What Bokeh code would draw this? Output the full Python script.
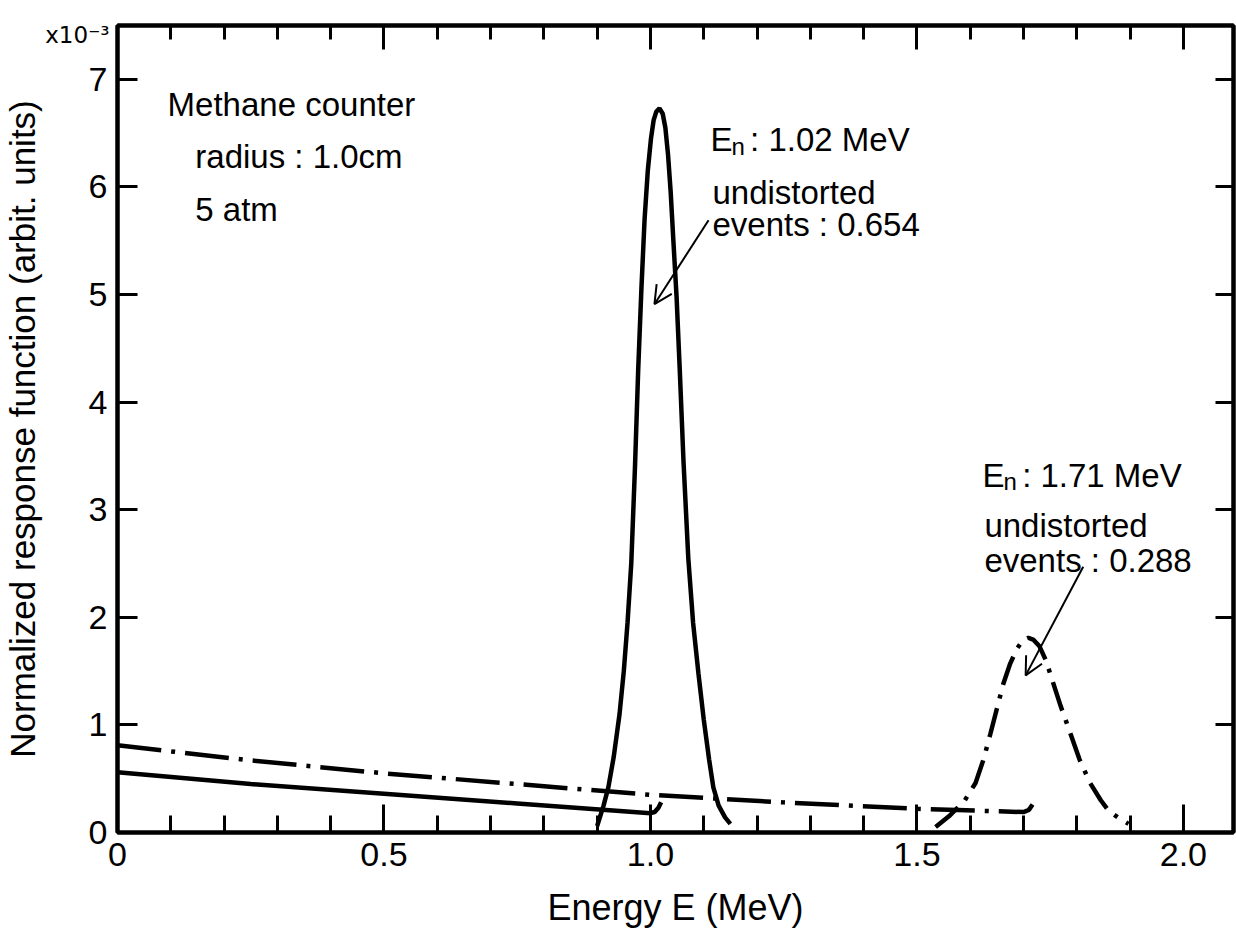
import math
from bokeh.plotting import figure
from bokeh.models import (Range1d, LinearAxis, FixedTicker, CustomJSTickFormatter,
                          Label, Arrow, OpenHead)
from bokeh.embed import file_html
from bokeh.resources import INLINE

# ---------------- data ----------------
# solid curve: En = 1.02 MeV
solid_base_x = [0.0, 0.25, 0.5, 0.75, 1.0, 1.008, 1.015, 1.02]
solid_base_y = [0.56, 0.45, 0.36, 0.27, 0.18, 0.19, 0.23, 0.28]
peak1_x = [0.900, 0.912, 0.921, 0.931, 0.942, 0.950, 0.957, 0.964, 0.971, 0.977,
           0.983, 0.989, 0.995, 1.001, 1.006, 1.011, 1.017, 1.023, 1.028, 1.033,
           1.038, 1.043, 1.049, 1.055, 1.062, 1.071, 1.080, 1.090, 1.100, 1.110,
           1.118, 1.128, 1.140, 1.150]
peak1_y = [0.06, 0.25, 0.42, 0.70, 1.10, 1.50, 1.95, 2.50, 3.40, 4.30,
           5.05, 5.70, 6.15, 6.45, 6.62, 6.70, 6.73, 6.68, 6.55, 6.30,
           5.95, 5.50, 4.98, 4.30, 3.45, 2.55, 1.95, 1.48, 1.05, 0.68,
           0.42, 0.25, 0.14, 0.08]

# dash-dot curve: En = 1.71 MeV
dd_base_x = [0.0, 0.25, 0.5, 0.75, 1.0, 1.25, 1.5, 1.70, 1.71, 1.717]
dd_base_y = [0.81, 0.67, 0.55, 0.45, 0.35, 0.28, 0.22, 0.19, 0.21, 0.26]
peak2_x = [1.535, 1.56, 1.59, 1.61, 1.625, 1.638, 1.65, 1.662, 1.675, 1.688, 1.699,
           1.709, 1.719, 1.730, 1.742, 1.755, 1.770, 1.788, 1.805, 1.825, 1.845,
           1.86, 1.88, 1.897]
peak2_y = [0.05, 0.15, 0.30, 0.46, 0.68, 0.92, 1.15, 1.38, 1.57, 1.71, 1.79,
           1.81, 1.79, 1.73, 1.60, 1.40, 1.17, 0.92, 0.68, 0.46, 0.30,
           0.20, 0.13, 0.08]

# axes
x_major_ticks = [0, 0.5, 1.0, 1.5, 2.0]
x_minor_ticks = [0.1, 0.2, 0.3, 0.4, 0.6, 0.7, 0.8, 0.9, 1.1, 1.2, 1.3, 1.4,
                 1.6, 1.7, 1.8, 1.9, 2.0]
y_major_ticks = [0, 1, 2, 3, 4, 5, 6, 7]
scale_tick = [7.41]                       # where the "x10^-3" factor sits
scale_text = "x10\u207b\u00b3"

# annotation arrows (start x, start y, end x, end y)
arrow1 = [1.109, 5.69, 1.0075, 4.91]
arrow2 = [1.812, 2.47, 1.704, 1.46]

FONT = "Liberation Sans"
FS = "33px"

p = figure(width=1236, height=930, output_backend="svg", toolbar_location=None,
           x_range=Range1d(0, 2.094), y_range=Range1d(0, 7.5),
           min_border_left=117, min_border_right=3, min_border_top=25,
           min_border_bottom=98, x_axis_location=None, y_axis_location=None)
p.grid.visible = False
p.outline_line_color = "black"
p.outline_line_width = 4
p.background_fill_color = "white"
p.border_fill_color = "white"

def style_axis(ax, labels=True):
    ax.axis_line_color = "black"
    ax.axis_line_width = 4
    ax.major_tick_line_width = 3
    ax.minor_tick_line_width = 3
    ax.major_tick_out = 0
    ax.minor_tick_out = 0
    ax.major_tick_line_color = "black"
    ax.minor_tick_line_color = "black"
    ax.axis_label_text_font = FONT
    ax.axis_label_text_font_size = "36px"
    ax.axis_label_text_font_style = "normal"
    ax.axis_label_text_color = "black"
    if labels:
        ax.major_label_text_font = FONT
        ax.major_label_text_font_size = "34px"
        ax.major_label_text_color = "black"
        ax.major_label_standoff = 10
    else:
        ax.major_label_text_font_size = "0px"
        ax.major_label_standoff = 0
        ax.formatter = CustomJSTickFormatter(code="return '';")

xb = LinearAxis(ticker=FixedTicker(ticks=x_major_ticks, minor_ticks=x_minor_ticks),
                formatter=CustomJSTickFormatter(code="return tick == 0 ? '0' : tick.toFixed(1);"),
                axis_label="Energy E (MeV)")
style_axis(xb)
xb.major_tick_in = 28
xb.minor_tick_in = 17
xb.axis_label_standoff = 18
p.add_layout(xb, "below")

xt = LinearAxis(ticker=FixedTicker(ticks=x_major_ticks, minor_ticks=x_minor_ticks))
style_axis(xt, labels=False)
xt.major_tick_in = 24
xt.minor_tick_in = 14
p.add_layout(xt, "above")

# inner left axis: line, ticks and 0..7 labels
yl = LinearAxis(ticker=FixedTicker(ticks=y_major_ticks, minor_ticks=[]))
style_axis(yl)
yl.major_tick_in = 20
yl.minor_tick_in = 0
p.add_layout(yl, "left")

# outer left axis: only the x10^-3 factor and the axis title
ys = LinearAxis(ticker=FixedTicker(ticks=scale_tick, minor_ticks=[]),
                major_label_overrides={scale_tick[0]: scale_text},
                axis_label="Normalized response function (arbit. units)")
style_axis(ys)
ys.axis_line_color = None
ys.major_tick_line_color = None
ys.minor_tick_line_color = None
ys.major_tick_in = 0
ys.major_label_text_font = "DejaVu Sans"
ys.major_label_text_font_size = "23px"
ys.major_label_standoff = -24
ys.axis_label_standoff = 0
ys.axis_label_text_font_size = "35px"
p.add_layout(ys, "left")

yr = LinearAxis(ticker=FixedTicker(ticks=y_major_ticks, minor_ticks=[]))
style_axis(yr, labels=False)
yr.major_tick_in = 18
yr.minor_tick_in = 0
p.add_layout(yr, "right")

# curves
p.line(solid_base_x, solid_base_y, line_color="black", line_width=4.5)
p.line(peak1_x, peak1_y, line_color="black", line_width=4.5)
p.line(dd_base_x, dd_base_y, line_color="black", line_width=4.5, line_dash="44 10 4 10")
p.line(peak2_x, peak2_y, line_color="black", line_width=4.5, line_dash="30 10 4 10")

for a in (arrow1, arrow2):
    p.add_layout(Arrow(end=OpenHead(size=18, line_width=2, line_color="black"),
                       x_start=a[0], y_start=a[1], x_end=a[2], y_end=a[3],
                       line_color="black", line_width=2))

def lab(x, y, text, size=FS, align="left"):
    p.add_layout(Label(x=x, y=y, text=text, text_font=FONT, text_font_size=size,
                       text_color="black", text_align=align,
                       text_baseline="alphabetic"))

lab(0.094, 6.763, "Methane counter")
lab(0.146, 6.279, "radius : 1.0cm")
lab(0.146, 5.786, "5 atm")

lab(1.1126, 6.437, "E")
lab(1.1520, 6.38, "n", size="24px")
lab(1.1870, 6.437, ": 1.02 MeV")
lab(1.1163, 5.944, "undistorted")
lab(1.1163, 5.647, "events : 0.654")

lab(1.623, 3.321, "E")
lab(1.6624, 3.265, "n", size="24px")
lab(1.6974, 3.321, ": 1.71 MeV")
lab(1.6266, 2.856, "undistorted")
lab(1.6266, 2.530, "events : 0.288")

open("out.html", "w").write(file_html(p, INLINE))
